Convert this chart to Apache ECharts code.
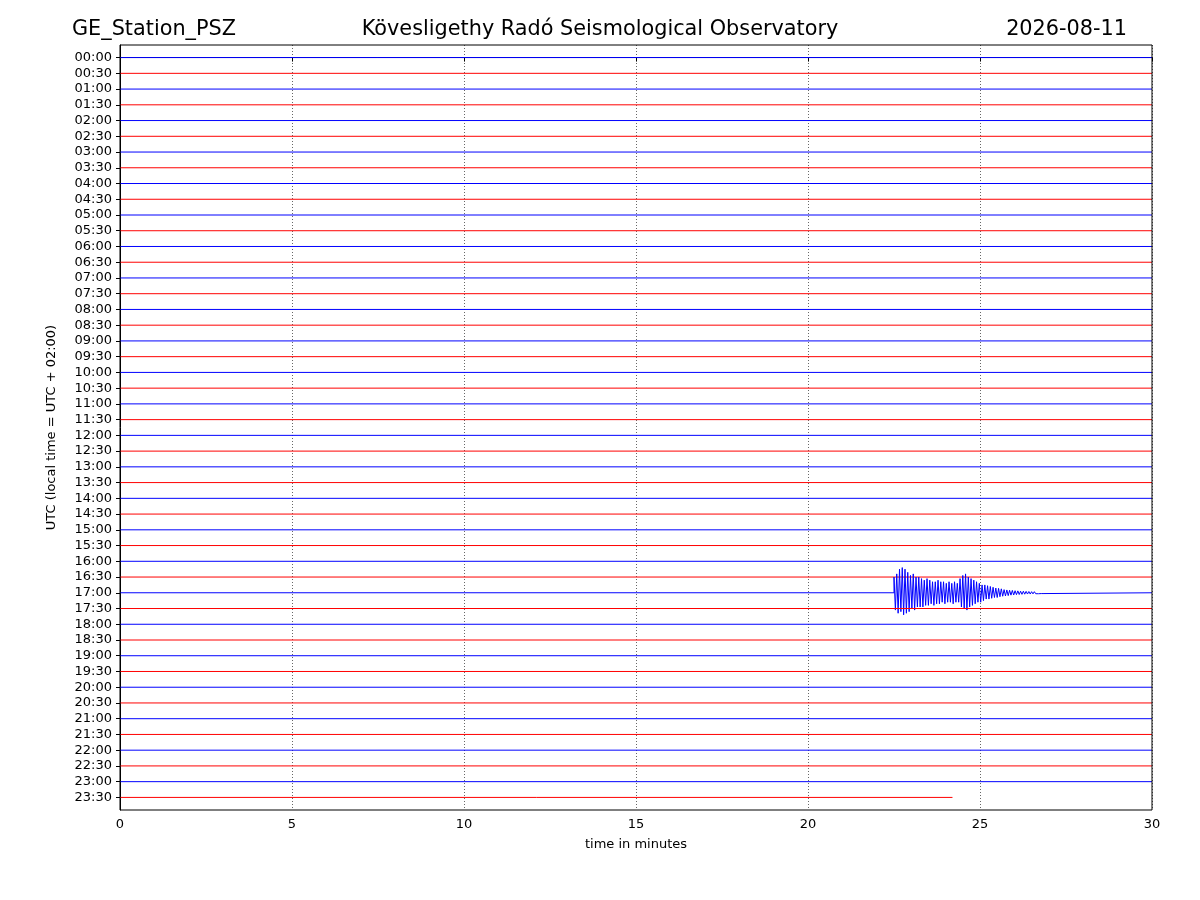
<!DOCTYPE html>
<html lang="en">
<head>
    <meta charset="utf-8">
    <title>GE_Station_PSZ helicorder</title>
    <script src="https://cdn.jsdelivr.net/npm/echarts@6/dist/echarts.min.js"></script>
</head>
<body style="margin:0;">
<div id="main" style="width:1200px;height:900px;"></div>
<script type="text/javascript">
    // row labels, one trace per half hour
    var rowLabels = [];
    for (var h = 0; h < 24; h++) {
        var hh = (h < 10 ? '0' : '') + h;
        rowLabels.push(hh + ':00', hh + ':30');
    }
    var rowEnd = 30;          // minutes per row
    var lastRowEnd = 24.2;    // recording stops here on the last row
    var eventRow = 34;        // 17:00
    var eventStart = 22.5;    // minutes
    var eventStep = 0.04;     // minutes between amplitude readings
    // amplitude readings of the quake (in row heights, + is up)
    var eventAmp = [
        1.0, -1.1, 1.2, -1.3, 1.5, -1.2, 1.6, -1.4, 1.5, -1.3, 1.3, -1.2, 1.1, -1.0, 1.2, -1.1,
        1.0, -0.9, 1.0, -0.9, 0.9, -0.9, 0.8, -0.8, 0.9, -0.8, 0.8, -0.7, 0.7, -0.8, 0.7, -0.7,
        0.8, -0.7, 0.7, -0.6, 0.7, -0.7, 0.6, -0.6, 0.7, -0.6, 0.6, -0.7, 0.7, -0.6, 0.6, -0.6,
        0.9, -0.9, 1.1, -1.0, 1.2, -1.1, 1.0, -0.9, 0.9, -0.8, 0.8, -0.7, 0.7, -0.6, 0.6, -0.6,
        0.5, -0.5, 0.5, -0.4, 0.45, -0.4, 0.4, -0.35, 0.35, -0.3, 0.3, -0.3, 0.28, -0.25, 0.25, -0.22,
        0.2, -0.2, 0.18, -0.18, 0.16, -0.15, 0.15, -0.14, 0.13, -0.12, 0.12, -0.11, 0.1, -0.1, 0.1, -0.09,
        0.09, -0.08, 0.08, -0.08, 0.07, -0.07, 0.07, -0.06, 0.06, -0.06, 0.05, -0.05, 0.05, -0.05];

    var chart = echarts.init(document.getElementById('main'));
    var series = [];
    for (let i = 0; i < rowLabels.length; i++) {
        let data = [[0, i]];
        if (i === eventRow) {
            data.push([eventStart, i]);
            for (let k = 0; k < eventAmp.length; k++) {
                data.push([eventStart + k * eventStep, i - eventAmp[k]]);
            }
        }
        data.push([i === rowLabels.length - 1 ? lastRowEnd : rowEnd, i]);
        series.push({
            type: 'line',
            data: data,
            symbol: 'none',
            silent: true,
            animation: false,
            lineStyle: {color: i % 2 === 0 ? '#0000ff' : '#ff0000', width: 1}
        });
    }
    var font = 'DejaVu Sans';
    var titleStyle = {fontFamily: font, fontSize: 20.8, fontWeight: 'normal', color: '#000'};
    var option = {
        animation: false,
        title: [
            {text: 'GE_Station_PSZ', left: 67, top: 14, textStyle: titleStyle},
            {text: 'Kövesligethy Radó Seismological Observatory', left: 'center', top: 14, textStyle: titleStyle},
            {text: '2026-08-11', right: 68, top: 14, textStyle: titleStyle}
        ],
        grid: {left: 120, right: 48, top: 45, bottom: 90},
        xAxis: {
            type: 'value', min: 0, max: 30, interval: 5,
            name: 'time in minutes', nameLocation: 'middle', nameGap: 28,
            nameTextStyle: {fontFamily: font, fontSize: 13, color: '#000'},
            axisLine: {lineStyle: {color: '#000'}},
            axisTick: {length: 4, lineStyle: {color: '#000'}},
            axisLabel: {fontFamily: font, fontSize: 13, color: '#000'},
            splitLine: {show: true, lineStyle: {color: '#000', type: [1, 2], width: 0.6}}
        },
        yAxis: {
            type: 'value', min: -0.8, max: 47.8, inverse: true,
            name: 'UTC (local time = UTC + 02:00)', nameLocation: 'middle', nameGap: 62,
            nameTextStyle: {fontFamily: font, fontSize: 13, color: '#000'},
            axisLine: {show: true, lineStyle: {color: '#000'}},
            axisTick: {show: true, length: 4, customValues: rowLabels.map(function (s, i) { return i; }), lineStyle: {color: '#000'}},
            axisLabel: {
                fontFamily: font, fontSize: 13, color: '#000',
                customValues: rowLabels.map(function (s, i) { return i; }),
                formatter: function (v) { return rowLabels[Math.round(v)]; }
            },
            splitLine: {show: false}
        },
        series: series
    };
    option.graphic = [{
        type: 'rect', shape: {x: 120, y: 45, width: 1032, height: 765},
        style: {fill: 'none', stroke: '#000', lineWidth: 1}, silent: true, z: 100
    }];
    chart.setOption(option);
</script>
</body>
</html>
